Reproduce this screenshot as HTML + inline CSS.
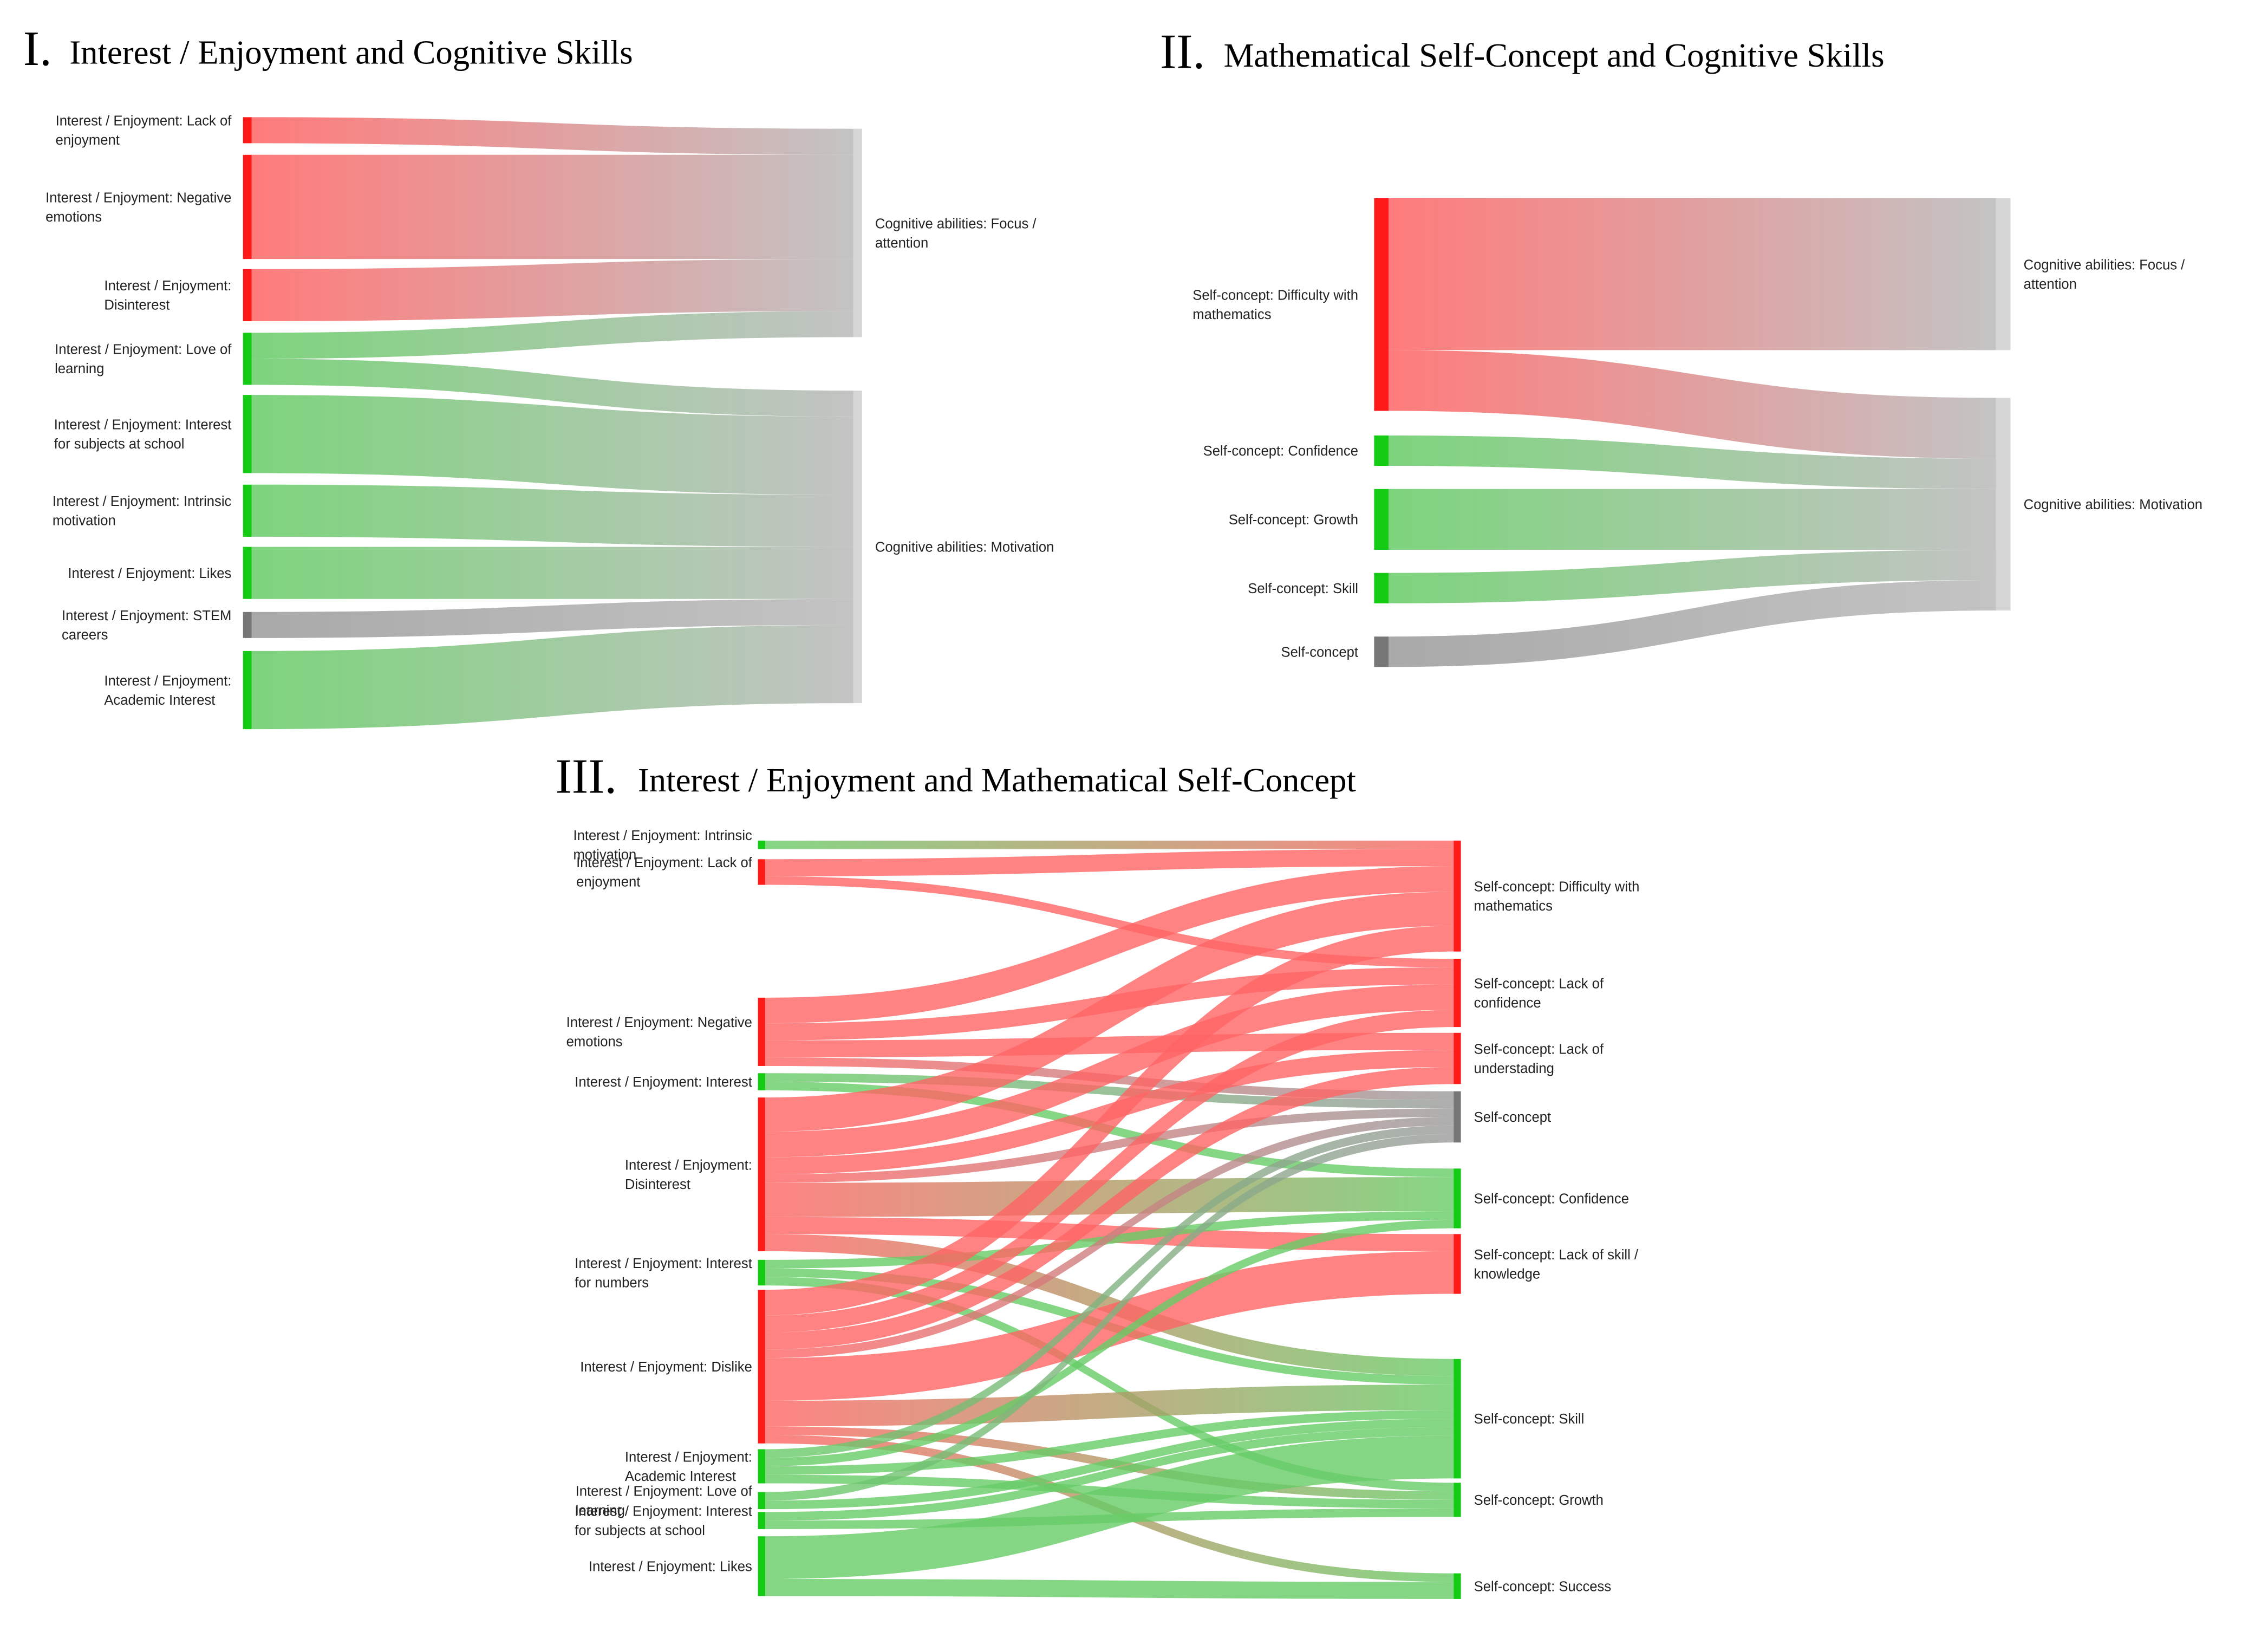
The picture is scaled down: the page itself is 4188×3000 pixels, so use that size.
<!DOCTYPE html>
<html><head><meta charset="utf-8">
<style>
html,body{margin:0;padding:0;background:#fff;}
svg{display:block;}
.lbl{font-family:"Liberation Sans",sans-serif;font-size:9.6px;fill:#222;}
.ttl{font-family:"Liberation Serif",serif;fill:#000;}
</style></head>
<body>
<svg id="chart" width="4188" height="3000" viewBox="0 0 1568 1123.2" xmlns="http://www.w3.org/2000/svg">
<defs id="defs"></defs>
<text class="ttl" x="16" y="45" font-size="34">I.</text>
<text class="ttl" x="48" y="44" font-size="23.5">Interest / Enjoyment and Cognitive Skills</text>
<text class="ttl" x="802" y="47" font-size="34">II.</text>
<text class="ttl" x="846" y="46" font-size="23.5">Mathematical Self-Concept and Cognitive Skills</text>
<text class="ttl" x="384" y="548" font-size="34">III.</text>
<text class="ttl" x="441" y="547" font-size="23.5">Interest / Enjoyment and Mathematical Self-Concept</text>
</svg>
<script>
// ---------- Panel I data ----------
const p1Sources = ["Interest / Enjoyment: Lack of|enjoyment","Interest / Enjoyment: Negative|emotions","Interest / Enjoyment:|Disinterest","Interest / Enjoyment: Love of|learning","Interest / Enjoyment: Interest|for subjects at school","Interest / Enjoyment: Intrinsic|motivation","Interest / Enjoyment: Likes","Interest / Enjoyment: STEM|careers","Interest / Enjoyment:|Academic Interest"];
const p1SourceTone = ["r","r","r","g","g","g","g","k","g"];
const p1Targets = ["Cognitive abilities: Focus /|attention","Cognitive abilities: Motivation"];
const p1LinkSource = [0,1,2,3,3,4,5,6,7,8];
const p1LinkTarget = [0,0,0,0,1,1,1,1,1,1];
const p1LinkValue  = [1,4,2,1,1,3,2,2,1,3];

// ---------- Panel II data ----------
const p2Sources = ["Self-concept: Difficulty with|mathematics","Self-concept: Confidence","Self-concept: Growth","Self-concept: Skill","Self-concept"];
const p2SourceTone = ["r","g","g","g","k"];
const p2Targets = ["Cognitive abilities: Focus /|attention","Cognitive abilities: Motivation"];
const p2LinkSource = [0,0,1,2,3,4];
const p2LinkTarget = [0,1,1,1,1,1];
const p2LinkValue  = [5,2,1,2,1,1];

// ---------- Panel III data ----------
const p3Sources = ["Interest / Enjoyment: Intrinsic|motivation","Interest / Enjoyment: Lack of|enjoyment","Interest / Enjoyment: Negative|emotions","Interest / Enjoyment: Interest","Interest / Enjoyment:|Disinterest","Interest / Enjoyment: Interest|for numbers","Interest / Enjoyment: Dislike","Interest / Enjoyment:|Academic Interest","Interest / Enjoyment: Love of|learning","Interest / Enjoyment: Interest|for subjects at school","Interest / Enjoyment: Likes"];
const p3SourceTone = ["g","r","r","g","r","g","r","g","g","g","g"];
const p3Targets = ["Self-concept: Difficulty with|mathematics","Self-concept: Lack of|confidence","Self-concept: Lack of|understading","Self-concept","Self-concept: Confidence","Self-concept: Lack of skill /|knowledge","Self-concept: Skill","Self-concept: Growth","Self-concept: Success"];
const p3TargetTone = ["r","r","r","k","g","r","g","g","g"];
const p3LinkSource = [0,1,1,2,2,2,2,3,3,4,4,4,4,4,4,4,5,5,5,6,6,6,6,6,6,6,6,7,7,7,7,8,8,9,9,10,10];
const p3LinkTarget = [0,0,1,0,1,2,3,3,4,0,1,2,3,4,5,6,4,6,7,0,1,2,3,5,6,7,8,3,4,6,7,3,6,6,7,6,8];
const p3LinkValue  = [1,2,1,3,2,2,1,1,1,4,3,2,1,4,2,2,1,1,1,3,2,2,1,5,3,1,1,1,1,1,1,1,1,1,1,5,2];

const NS = "http://www.w3.org/2000/svg";
const svg = document.getElementById("chart");
const defs = document.getElementById("defs");
const nodeCol = {r:"#ff1a1a", g:"#14cc14", k:"#777777", t:"#d6d6d6"};
const linkCol = {r:"#ff6464", g:"#66cc66", k:"#9a9a9a", t:"#b9b9b9"};
let gid = 0;

function addLabel(text, x, yc, side, name) {
  const lines = text.split("|");
  const t = document.createElementNS(NS, "text");
  t.setAttribute("class", "lbl");
  
  
  const lh = 13.3;
  const y0 = yc - (lines.length - 1) * lh / 2 + 3.4;
  lines.forEach((ln, i) => {
    const s = document.createElementNS(NS, "tspan");
    s.setAttribute("y", y0 + i * lh);
    s.textContent = ln;
    t.appendChild(s);
  });
  svg.appendChild(t);
  let w = 0;
  t.querySelectorAll("tspan").forEach(s => { w = Math.max(w, s.getComputedTextLength()); });
  const xs = side === "left" ? x - w : x;
  t.querySelectorAll("tspan").forEach(s => s.setAttribute("x", xs));
}

function sankey(p, src, srcTone, tgt, tgtTone, ls, lt, lv, L) {
  const inV = src.map(() => 0), outV = tgt.map(() => 0);
  lv.forEach((v, i) => { inV[ls[i]] += v; outV[lt[i]] += v; });
  const sy = [], ty = [];
  let y = L.leftTop;
  src.forEach((s, i) => { if (i) y += L.leftGaps[i-1]; sy.push(y); y += inV[i] * L.unit; });
  y = L.rightTop;
  tgt.forEach((s, i) => { if (i) y += L.rightGaps[i-1]; ty.push(y); y += outV[i] * L.unit; });
  const idx = lv.map((v, i) => i);
  const so = sy.slice(), to = ty.slice();
  const sOrder = idx.slice().sort((a, b) => ls[a] - ls[b] || lt[a] - lt[b]);
  const tOrder = idx.slice().sort((a, b) => lt[a] - lt[b] || ls[a] - ls[b]);
  const ys = [], yt = [];
  sOrder.forEach(i => { ys[i] = so[ls[i]]; so[ls[i]] += lv[i] * L.unit; });
  tOrder.forEach(i => { yt[i] = to[lt[i]]; to[lt[i]] += lv[i] * L.unit; });
  const xa = L.x0 + L.w0, xb = L.x1, xm = (xa + xb) / 2;
  idx.forEach(i => {
    const h = lv[i] * L.unit;
    const g = document.createElementNS(NS, "linearGradient");
    const id = "g" + (gid++);
    g.setAttribute("id", id);
    g.setAttribute("gradientUnits", "userSpaceOnUse");
    g.setAttribute("x1", xa); g.setAttribute("x2", xb);
    g.setAttribute("y1", 0); g.setAttribute("y2", 0);
    const c1 = linkCol[srcTone[ls[i]]], c2 = linkCol[tgtTone ? tgtTone[lt[i]] : "t"];
    g.innerHTML = `<stop offset="0" stop-color="${c1}"/><stop offset="1" stop-color="${c2}"/>`;
    defs.appendChild(g);
    const a = ys[i], b = yt[i];
    const path = document.createElementNS(NS, "path");
    path.setAttribute("d", `M${xa},${a} C${xm},${a} ${xm},${b} ${xb},${b} L${xb},${b+h} C${xm},${b+h} ${xm},${a+h} ${xa},${a+h} Z`);
    path.setAttribute("fill", `url(#${id})`);
    path.setAttribute("fill-opacity", L.op);
    
    
    svg.appendChild(path);
  });
  src.forEach((s, i) => {
    const r = document.createElementNS(NS, "rect");
    r.setAttribute("x", L.x0); r.setAttribute("y", sy[i]);
    r.setAttribute("width", L.w0); r.setAttribute("height", inV[i] * L.unit);
    r.setAttribute("fill", nodeCol[srcTone[i]]);
    
    
    svg.appendChild(r);
    addLabel(s, L.x0 - L.lpad, sy[i] + inV[i] * L.unit / 2, "left", p + "-source-label-" + i);
  });
  tgt.forEach((s, i) => {
    const r = document.createElementNS(NS, "rect");
    r.setAttribute("x", L.x1); r.setAttribute("y", ty[i]);
    r.setAttribute("width", L.w1); r.setAttribute("height", outV[i] * L.unit);
    r.setAttribute("fill", nodeCol[tgtTone ? tgtTone[i] : "t"]);
    
    
    svg.appendChild(r);
    addLabel(s, L.x1 + L.w1 + 9, ty[i] + outV[i] * L.unit / 2, "right", p + "-target-label-" + i);
  });
}

sankey("p1", p1Sources, p1SourceTone, p1Targets, null, p1LinkSource, p1LinkTarget, p1LinkValue,
  {x0:168, w0:6, x1:590, w1:6, unit:18, leftTop:81, leftGaps:[8,7,8,7,8,7,9,9], rightTop:89, rightGaps:[37], op:0.85, lpad:8});
sankey("p2", p2Sources, p2SourceTone, p2Targets, null, p2LinkSource, p2LinkTarget, p2LinkValue,
  {x0:950, w0:10, x1:1380, w1:10, unit:21, leftTop:137, leftGaps:[17,16,16,23], rightTop:137, rightGaps:[33], op:0.85, lpad:11});
sankey("p3", p3Sources, p3SourceTone, p3Targets, p3TargetTone, p3LinkSource, p3LinkTarget, p3LinkValue,
  {x0:524, w0:5, x1:1005, w1:5, unit:5.9, leftTop:581, leftGaps:[7,78,5,5,6,3,4,6,2,5], rightTop:581, rightGaps:[5,4,5,18,4,45,3,39], op:0.8, lpad:4});
</script>
</body></html>
